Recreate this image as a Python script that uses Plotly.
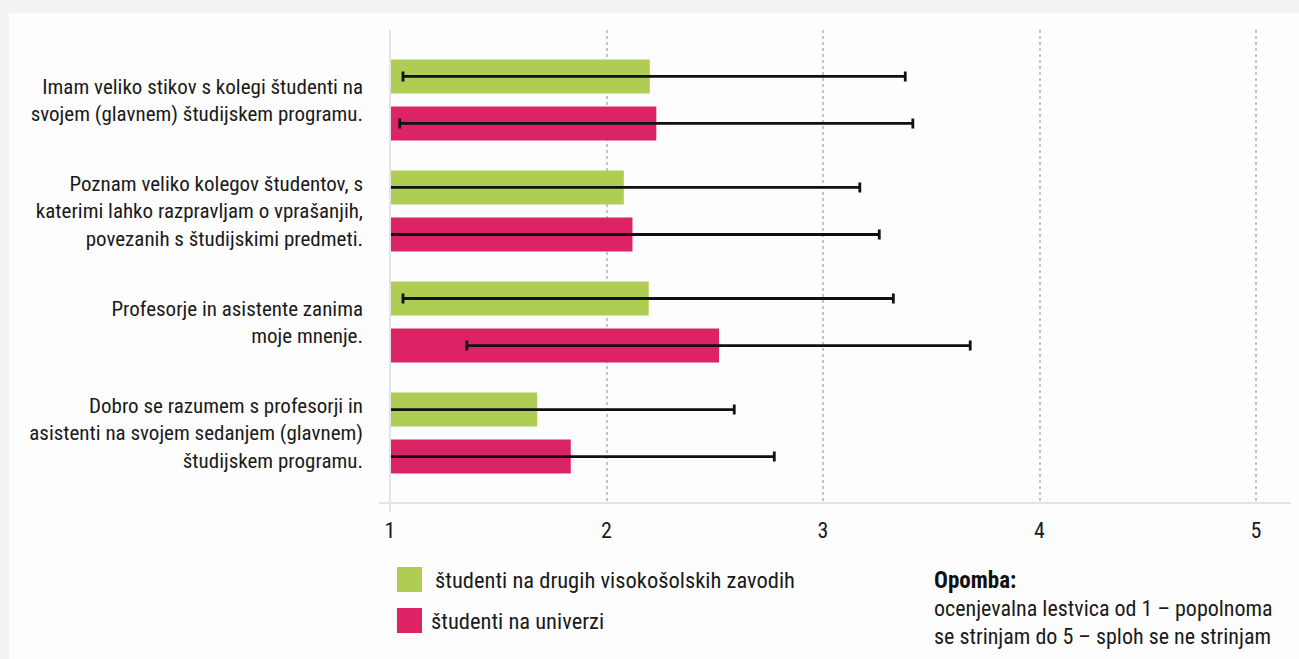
import plotly.graph_objects as go

categories = [
    "Imam veliko stikov s kolegi študenti na<br>svojem (glavnem) študijskem programu.",
    "Poznam veliko kolegov študentov, s<br>katerimi lahko razpravljam o vprašanjih,<br>povezanih s študijskimi predmeti.",
    "Profesorje in asistente zanima<br>moje mnenje.",
    "Dobro se razumem s profesorji in<br>asistenti na svojem sedanjem (glavnem)<br>študijskem programu.",
]
series_names = ["študenti na drugih visokošolskih zavodih", "študenti na univerzi"]
other_values = [2.20, 2.08, 2.195, 1.68]
other_err_plus = [1.18, 1.09, 1.13, 0.91]
other_err_minus = [1.14, 1.09, 1.135, 0.91]
uni_values = [2.23, 2.12, 2.52, 1.835]
uni_err_plus = [1.185, 1.14, 1.16, 0.94]
uni_err_minus = [1.185, 1.14, 1.165, 0.94]
x_ticks = [1, 2, 3, 4, 5]
note_title = "Opomba:"
note_lines = ["ocenjevalna lestvica od 1 – popolnoma", "se strinjam do 5 – sploh se ne strinjam"]

GREEN = "#aecd52"
PINK = "#dc2366"
FONT = "Roboto Condensed, Liberation Sans Narrow, sans-serif"
TXT = "#1a1a1a"

ypos = list(range(len(categories)))

fig = go.Figure()
fig.add_trace(go.Bar(
    y=ypos, x=[v - 1 for v in other_values], base=1, orientation="h",
    name=series_names[0], marker=dict(color=GREEN, line=dict(width=0)),
    error_x=dict(type="data", array=other_err_plus, arrayminus=other_err_minus, color="#111111",
                 thickness=2.8, width=5),
    hoverinfo="skip",
))
fig.add_trace(go.Bar(
    y=ypos, x=[v - 1 for v in uni_values], base=1, orientation="h",
    name=series_names[1], marker=dict(color=PINK, line=dict(width=0)),
    error_x=dict(type="data", array=uni_err_plus, arrayminus=uni_err_minus, color="#111111",
                 thickness=2.8, width=5),
    hoverinfo="skip",
))

W, H = 1299, 659
L, R, T, B = 390, W - 1291, 30, H - 503
pw, ph = W - L - R, H - T - B

def px(x):
    return (x - L) / pw

def py(y):
    return (H - B - y) / ph

shapes = [
    dict(type="rect", xref="paper", yref="paper", x0=px(0), x1=px(W), y0=py(0), y1=py(13),
         fillcolor="#f2f3f5", line=dict(width=0), layer="below"),
    dict(type="rect", xref="paper", yref="paper", x0=px(0), x1=px(9), y0=py(0), y1=py(H),
         fillcolor="#f2f3f5", line=dict(width=0), layer="below"),
    dict(type="line", xref="paper", yref="paper", x0=px(379), x1=1, y0=0, y1=0,
         line=dict(color="#e3e4e8", width=2)),
    dict(type="line", xref="paper", yref="paper", x0=0, x1=0, y0=py(512), y1=1,
         line=dict(color="#e3e4e8", width=2)),
]
for i, (c, yy) in enumerate([(GREEN, 567), (PINK, 608)]):
    shapes.append(dict(type="rect", xref="paper", yref="paper", x0=px(397), x1=px(422),
                       y0=py(yy + 25), y1=py(yy), fillcolor=c, line=dict(width=0)))

LF = dict(size=22.5, color=TXT, family=FONT)
NF = dict(size=22, color=TXT, family=FONT)
annotations = [
    dict(text=series_names[0], x=px(433), y=py(580), xref="paper", yref="paper",
         xanchor="left", yanchor="middle", showarrow=False, font=LF),
    dict(text=series_names[1], x=px(429), y=py(621), xref="paper", yref="paper",
         xanchor="left", yanchor="middle", showarrow=False, font=LF),
    dict(text="<b>" + note_title + "</b>", x=px(932), y=py(580), xref="paper", yref="paper",
         xanchor="left", yanchor="middle", showarrow=False,
         font=dict(size=23, color="#111111", family=FONT)),
]
for j, line in enumerate(note_lines):
    annotations.append(dict(text=line, x=px(932), y=py(608 + 28 * j), xref="paper", yref="paper",
                            xanchor="left", yanchor="middle", showarrow=False, font=NF))

fig.update_layout(
    width=W, height=H,
    margin=dict(l=L, r=R, t=T, b=B, pad=0),
    paper_bgcolor="#fdfdfd", plot_bgcolor="rgba(0,0,0,0)",
    barmode="group", bargap=0.153, bargroupgap=0.277,
    showlegend=False,
    font=dict(family=FONT, size=21, color=TXT),
    shapes=shapes, annotations=annotations,
    xaxis=dict(range=[1, 5 + 35 / 216.5], tickvals=x_ticks, ticktext=[str(t) for t in x_ticks],
               showgrid=True, gridcolor="#c4c4c4", griddash="dot", gridwidth=1.5,
               zeroline=False, showline=False, ticks="", ticklabelstandoff=12, automargin=False,
               tickfont=dict(size=22, family=FONT, color=TXT)),
    yaxis=dict(range=[3.63, -0.63], tickvals=ypos, ticktext=categories,
               showgrid=False, zeroline=False, showline=False, ticks="", automargin=False,
               ticklabelstandoff=26, tickfont=dict(size=21, family=FONT, color=TXT)),
)

fig.write_html("out.html", config=dict(displayModeBar=False),
               post_script="document.body.style.margin='0';document.body.style.overflow='hidden';")
